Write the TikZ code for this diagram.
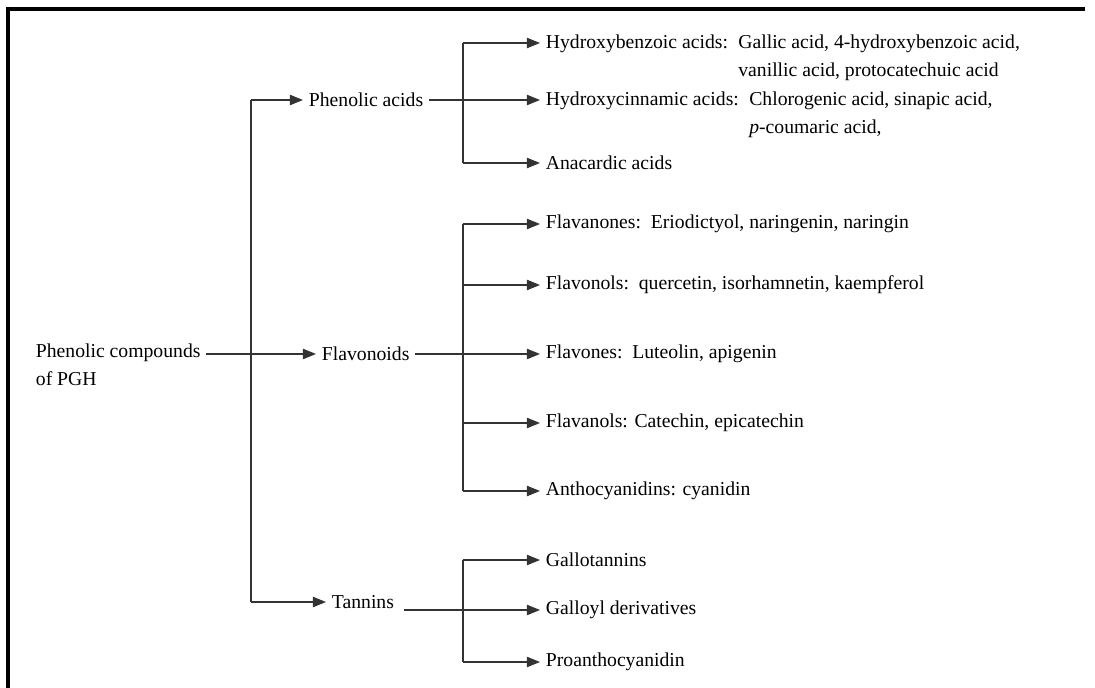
\documentclass[tikz,border=0pt]{standalone}
\usepackage{fontspec}
\setmainfont{Liberation Serif}
\usetikzlibrary{arrows.meta}

\begin{document}
\begin{tikzpicture}[x=0.025cm,y=-0.025cm,
        lbl/.style={anchor=west,inner xsep=4pt,inner ysep=1pt,align=left,
                    font=\fontsize{14}{19.9}\selectfont},
        conn/.style={draw=black!80,line width=0.8pt},
        arr/.style={conn,-{Triangle[length=3.3mm,width=2.6mm]}}]
  \useasboundingbox (0,0) rectangle (1095,688);
  \draw[line width=2.2pt] (8,688) -- (8,9) -- (1085,9);
  % root and main groups
  \node[lbl] (root) at (30,365) {Phenolic compounds\\of PGH};
  \node[lbl] (pac) at (303,100) {Phenolic acids};
  \node[lbl] (fla) at (316,354) {Flavonoids};
  \node[lbl] (tan) at (326,602) {Tannins};
  \coordinate (trunk) at (251,0);
  \coordinate (sub) at (463,0);
  \draw[conn] (pac.west -| trunk) -- (tan.west -| trunk);
  \draw[arr] (pac.west -| trunk) -- (pac.west);
  \draw[arr] (root.east |- fla.west) -- (fla.west);
  \draw[arr] (tan.west -| trunk) -- (tan.west);
  % phenolic acids
  \node[lbl] (hba) at (540,43) {\strut Hydroxybenzoic acids:};
  \node[lbl,anchor=north west,inner xsep=3pt] (hbl) at (hba.north east)
       {\strut Gallic acid, 4-hydroxybenzoic acid,\\vanillic acid, protocatechuic acid};
  \node[lbl] (hca) at (540,100) {\strut Hydroxycinnamic acids:};
  \node[lbl,anchor=north west,inner xsep=3pt] (hcl) at (hca.north east)
       {\strut Chlorogenic acid, sinapic acid,\\\textit{p}-coumaric acid,};
  \node[lbl] (ana) at (540,163) {Anacardic acids};
  \draw[conn] (hba.west -| sub) -- (ana.west -| sub);
  \draw[arr] (hba.west -| sub) -- (hba.west);
  \draw[arr] (pac.east) -- (hca.west);
  \draw[arr] (ana.west -| sub) -- (ana.west);
  % flavonoids
  \node[lbl] (fnn) at (540,224) {Flavanones:\ \ Eriodictyol, naringenin, naringin};
  \node[lbl] (fnl) at (540,285) {Flavonols:\ \ quercetin, isorhamnetin, kaempferol};
  \node[lbl] (fvs) at (540,354) {Flavones:\ \ Luteolin, apigenin};
  \node[lbl] (fvl) at (540,423) {Flavanols: Catechin, epicatechin};
  \node[lbl] (ant) at (540,491) {Anthocyanidins: cyanidin};
  \draw[conn] (fnn.west -| sub) -- (ant.west -| sub);
  \draw[arr] (fnn.west -| sub) -- (fnn.west);
  \draw[arr] (fnl.west -| sub) -- (fnl.west);
  \draw[arr] (fla.east) -- (fvs.west);
  \draw[arr] (fvl.west -| sub) -- (fvl.west);
  \draw[arr] (ant.west -| sub) -- (ant.west);
  % tannins
  \node[lbl] (gtn) at (540,560) {Gallotannins};
  \node[lbl] (gdv) at (540,610) {Galloyl derivatives};
  \node[lbl] (pro) at (540,662) {Proanthocyanidin};
  \draw[conn] (gtn.west -| sub) -- (pro.west -| sub);
  \draw[arr] (gtn.west -| sub) -- (gtn.west);
  \draw[arr] ([xshift=3pt]tan.east |- gdv.west) -- (gdv.west);
  \draw[arr] (pro.west -| sub) -- (pro.west);
\end{tikzpicture}
\end{document}
